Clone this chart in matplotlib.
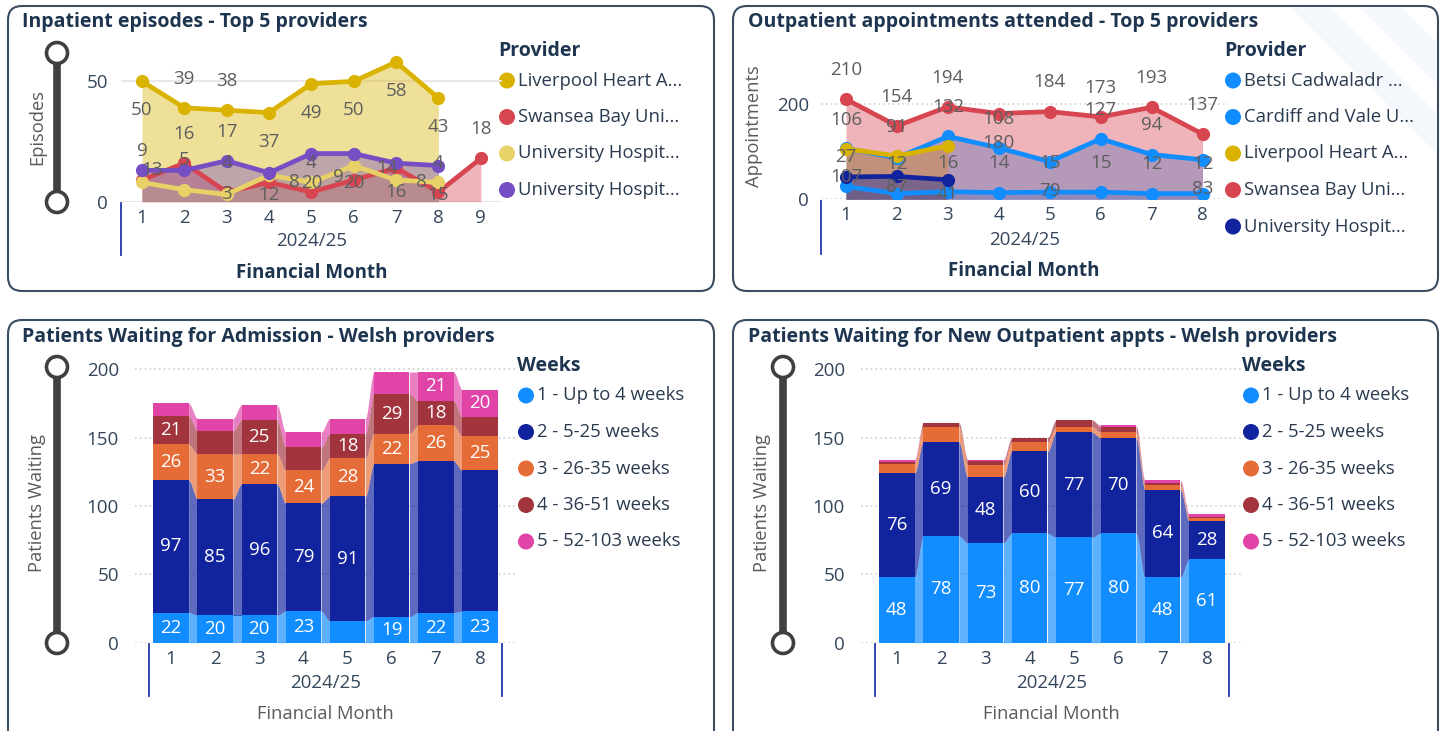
import numpy as np
import matplotlib.pyplot as plt
import matplotlib.patches as patches
from matplotlib import transforms

W, H = 1446, 731

# ---------------- data ----------------
months_ip = [1, 2, 3, 4, 5, 6, 7, 8, 9]
ip_liverpool = [50, 39, 38, 37, 49, 50, 58, 43]
ip_swansea = [9, 16, 4, 8, 4, 9, 14, 4, 18]
ip_uhosp_a = [8, 5, 3, 11, 8, 15, 9, 8]
ip_uhosp_b = [13, 13, 17, 12, 20, 20, 16, 15]
ip_names = ["Liverpool Heart A...", "Swansea Bay Uni...", "University Hospit...", "University Hospit..."]

months_op = [1, 2, 3, 4, 5, 6, 7, 8]
op_betsi = [27, 12, 16, 14, 15, 15, 12, 12]
op_cardiff = [107, 87, 132, 108, 79, 127, 94, 83]
op_liverpool = [106, 91, 112]
op_swansea = [210, 154, 194, 180, 184, 173, 193, 137]
op_uhosp = [47, 48, 41]
op_names = ["Betsi Cadwaladr ...", "Cardiff and Vale U...", "Liverpool Heart A...",
            "Swansea Bay Uni...", "University Hospit..."]

months_wait = [1, 2, 3, 4, 5, 6, 7, 8]
week_bands = ["1 - Up to 4 weeks", "2 - 5-25 weeks", "3 - 26-35 weeks", "4 - 36-51 weeks", "5 - 52-103 weeks"]
adm_w1 = [22, 20, 20, 23, 16, 19, 22, 23]
adm_w2 = [97, 85, 96, 79, 91, 112, 111, 103]
adm_w3 = [26, 33, 22, 24, 28, 22, 26, 25]
adm_w4 = [21, 17, 25, 17, 18, 29, 18, 14]
adm_w5 = [9, 9, 11, 11, 11, 16, 21, 20]
new_w1 = [48, 78, 73, 80, 77, 80, 48, 61]
new_w2 = [76, 69, 48, 60, 77, 70, 64, 28]
new_w3 = [7, 11, 9, 7, 4, 4, 3, 2]
new_w4 = [1, 3, 3, 3, 5, 4, 2, 1]
new_w5 = [2, 0, 1, 0, 0, 1, 2, 2]

# ---------------- styles ----------------
GOLD, RED, LYELLOW, PURPLE = "#D9B300", "#D64550", "#E8D166", "#744EC2"
BLUE, NAVY, ORANGE, MAROON, PINK = "#118DFF", "#12239E", "#E66C37", "#A1343C", "#E044A7"
TITLE_C = "#1E3550"
TICK_C = "#34465C"
LABEL_C = "#5E5E5E"
AXIS_C = "#5A5A5A"
FS = 13.5
# label placement: 1 above the point, -1 below, 0 on it, None hidden; (side, dx) shifts sideways
ip_sides = [
    [-1, 1, 1, -1, -1, -1, -1, -1],
    [1, 1, 1, None, 1, (0.1, -11), (0, -6.5), 1, 1],
    [None, 1, 0, None, (0, -12), None, None, (0, -12)],
    [(0, 7), None, 1, -0.75, -1, -1, -1, -1],
]
op_sides = [
    [1] * 8,
    [-1, -1, 1, 1, -1, 1, 1, -1],
    [1, 1, None],
    [1, 1, 1, -1, 1, 1, 1, 1],
    [None, None, -0.5],
]

plt.rcParams["font.family"] = ["Open Sans", "DejaVu Sans"]
fig = plt.figure(figsize=(W / 100, H / 100), dpi=100)


def px_axes(x0, y0, x1, y1, **kw):
    return fig.add_axes([x0 / W, 1 - y1 / H, (x1 - x0) / W, (y1 - y0) / H], **kw)


bg = px_axes(0, 0, W, H, zorder=0)
bg.set_xlim(0, W)
bg.set_ylim(H, 0)
bg.axis("off")

# panel frames
for x0, y0, x1, y1 in [(8, 6, 714, 291), (733, 6, 1438, 291), (8, 320, 714, 760), (733, 320, 1438, 760)]:
    bg.add_patch(patches.FancyBboxPatch((x0, y0), x1 - x0, y1 - y0,
                                        boxstyle="round,pad=0,rounding_size=14",
                                        fc="white", ec="#3B4D61", lw=1.5, zorder=0))
# faint background stripes, top right
for off in (0, 70):
    bg.add_patch(patches.Polygon([(1290 + off, 7), (1330 + off, 7), (1437, 114 - off), (1437, 154 - off)],
                                 closed=True, fc="#F4F7FC", ec="none", zorder=0.5))

titles = [(22, 22, "Inpatient episodes - Top 5 providers"),
          (748, 22, "Outpatient appointments attended - Top 5 providers"),
          (22, 337, "Patients Waiting for Admission - Welsh providers"),
          (748, 337, "Patients Waiting for New Outpatient appts - Welsh providers")]
for x, y, t in titles:
    bg.text(x, y, t, fontsize=14, fontweight="bold", color=TITLE_C, va="center", ha="left")

for x, y, t in [(37, 127, "Episodes"), (754, 126, "Appointments"),
                (37, 503, "Patients Waiting"), (762, 503, "Patients Waiting")]:
    bg.text(x, y, t, rotation=90, fontsize=13.2, color=AXIS_C, va="center", ha="center")


def slider(x, y_top, y_bot):
    bg.plot([x, x], [y_top, y_bot], color="#404040", lw=5.5, solid_capstyle="butt", zorder=2)
    for y in (y_top, y_bot):
        bg.add_patch(patches.Circle((x, y), 10.5, fc="white", ec="#404040", lw=2.6, zorder=3))


slider(57, 53, 202)
slider(57, 367, 643)
slider(783, 367, 643)


def legend(x, y, title, names, colors, dy=36.5):
    bg.text(x, y, title, fontsize=14, fontweight="bold", color=TITLE_C, va="center", ha="left")
    for i, (name, col) in enumerate(zip(names, colors)):
        yy = y + 29.5 + i * dy
        bg.add_patch(patches.Circle((x + 9, yy), 8, fc=col, ec="none", zorder=3))
        bg.text(x + 20, yy, name, fontsize=13.3, color="#2A3A4F", va="center", ha="left")


legend(498, 51, "Provider", ip_names, [GOLD, RED, LYELLOW, PURPLE])
legend(1224, 51, "Provider", op_names, [BLUE, BLUE, GOLD, RED, NAVY])
legend(517, 366, "Weeks", week_bands, [BLUE, NAVY, ORANGE, MAROON, PINK])
legend(1242, 366, "Weeks", week_bands, [BLUE, NAVY, ORANGE, MAROON, PINK])


def style_axes(ax, yticks, ypad, grid_ls, months, tick_dy, bold_title, brackets, bracket_px):
    ax.set_facecolor("none")
    for s in ax.spines.values():
        s.set_visible(False)
    ax.set_yticks(yticks)
    ax.set_xticks(months)
    ax.tick_params(axis="both", length=0, labelsize=FS, colors=TICK_C)
    ax.tick_params(axis="y", pad=ypad)
    ax.tick_params(axis="x", pad=5)
    ax.yaxis.grid(True, color="#D6D6D6" if grid_ls == ":" else "#E8E8E8",
                  ls=grid_ls, lw=1.3 if grid_ls == ":" else 1.4, zorder=0)
    ax.set_axisbelow(True)
    xc = (months[0] + months[-1]) / 2
    ax.annotate("2024/25", xy=(xc, 0), xycoords=("data", "axes fraction"), xytext=(0, -tick_dy),
                textcoords="offset points", ha="center", va="center", fontsize=FS, color=TICK_C)
    ax.annotate("Financial Month", xy=(xc, 0), xycoords=("data", "axes fraction"),
                xytext=(0, -tick_dy - 22.5), textcoords="offset points", ha="center", va="center",
                fontsize=13.5 if bold_title else 13.2, color=TITLE_C if bold_title else AXIS_C,
                fontweight="bold" if bold_title else "normal")
    tr = transforms.blended_transform_factory(ax.transData, bg.transData)
    for xb in brackets:
        bg.plot([xb, xb], bracket_px, transform=tr, color="#2536A8", lw=1.3, clip_on=False, zorder=4)


def line_series(ax, months, series, colors, sides, z0):
    for k, (vals, col) in enumerate(zip(series, colors)):
        xs = months[:len(vals)]
        ax.fill_between(xs, 0, vals, color=col, alpha=0.4, lw=0, zorder=2 + k * 0.01)
    for k, (vals, col) in enumerate(zip(series, colors)):
        xs = months[:len(vals)]
        ax.plot(xs, vals, color=col, lw=3.4, marker="o", ms=9.5, mew=0, zorder=3 + k * 0.1,
                solid_capstyle="round")
    for vals, side in zip(series, sides):
        for x, v, s in zip(months, vals, side):
            if s is None:
                continue
            dx = 0
            if isinstance(s, tuple):
                s, dx = s
            ax.annotate(str(v), (x, v), xytext=(dx, 21 * s), textcoords="offset points",
                        ha="center", va="center", fontsize=FS, color=LABEL_C, zorder=z0,
                        annotation_clip=False)


# ---------------- panel 1: inpatient episodes ----------------
ax1 = px_axes(120.8, 53, 502, 201.7, zorder=1)
ax1.set_xlim(0.5, 9.5)
ax1.set_ylim(0, (201.7 - 53) / 2.408)
line_series(ax1, months_ip, [ip_liverpool, ip_swansea, ip_uhosp_a, ip_uhosp_b],
            [GOLD, RED, LYELLOW, PURPLE], ip_sides, 6)
style_axes(ax1, [0, 50], 9.2, "-", months_ip, 28.5, True, [0.5], [203, 255])

# ---------------- panel 2: outpatient appointments ----------------
ax2 = px_axes(820.5, 55, 1228, 199.3, zorder=1)
ax2.set_xlim(0.5, 8.5)
ax2.set_ylim(0, (199.3 - 55) / 0.4765)
line_series(ax2, months_op, [op_betsi, op_cardiff, op_liverpool, op_swansea, op_uhosp],
            [BLUE, BLUE, GOLD, RED, NAVY], op_sides, 6)
style_axes(ax2, [0, 200], 8.3, ":", months_op, 29.3, True, [0.5], [201, 254])


# ---------------- panels 3 & 4: ribbon charts ----------------
def ribbon(ax, months, layers, colors, hidden=(), width=0.8, min_label=18):
    base = np.zeros(len(months))
    t = np.linspace(0, 1, 40)
    s = t * t * (3 - 2 * t)
    for k, (vals, col) in enumerate(zip(layers, colors)):
        vals = np.asarray(vals, float)
        top = base + vals
        ax.bar(months, vals, width, bottom=base, color=col, lw=0, zorder=3)
        for i in range(len(months) - 1):
            x0 = months[i] + width / 2
            x1 = months[i + 1] - width / 2
            xs = x0 + (x1 - x0) * t
            lo = base[i] + (base[i + 1] - base[i]) * s
            hi = top[i] + (top[i + 1] - top[i]) * s
            ax.fill_between(xs, lo, hi, color=col, alpha=0.68, lw=0, zorder=2)
        for i, (x, v) in enumerate(zip(months, vals)):
            if v >= min_label and (k, i) not in hidden:
                ax.text(x, base[i] + v / 2, str(int(v)), ha="center", va="center",
                        fontsize=FS, color="white", zorder=5)
        base = top


ax3 = px_axes(135, 366.7, 516, 642.7, zorder=1)
ax3.set_xlim(1 - 36 / 44.14, 8 + 36 / 44.14)
ax3.set_ylim(0, (642.7 - 366.7) / 1.367)
ribbon(ax3, months_wait, [adm_w1, adm_w2, adm_w3, adm_w4, adm_w5],
       [BLUE, NAVY, ORANGE, MAROON, PINK], hidden={(1, 5), (1, 6), (1, 7)})
style_axes(ax3, [0, 50, 100, 150, 200], 11.5, ":", months_wait, 29, False, [0.5, 8.5], [644, 696])

ax4 = px_axes(860.7, 366.7, 1241, 642.7, zorder=1)
ax4.set_xlim(1 - 36 / 44.19, 8 + 34 / 44.19)
ax4.set_ylim(0, (642.7 - 366.7) / 1.367)
ribbon(ax4, months_wait, [new_w1, new_w2, new_w3, new_w4, new_w5],
       [BLUE, NAVY, ORANGE, MAROON, PINK])
style_axes(ax4, [0, 50, 100, 150, 200], 11.3, ":", months_wait, 29, False, [0.5, 8.5], [644, 696])

fig.savefig("out.png", dpi=100)
